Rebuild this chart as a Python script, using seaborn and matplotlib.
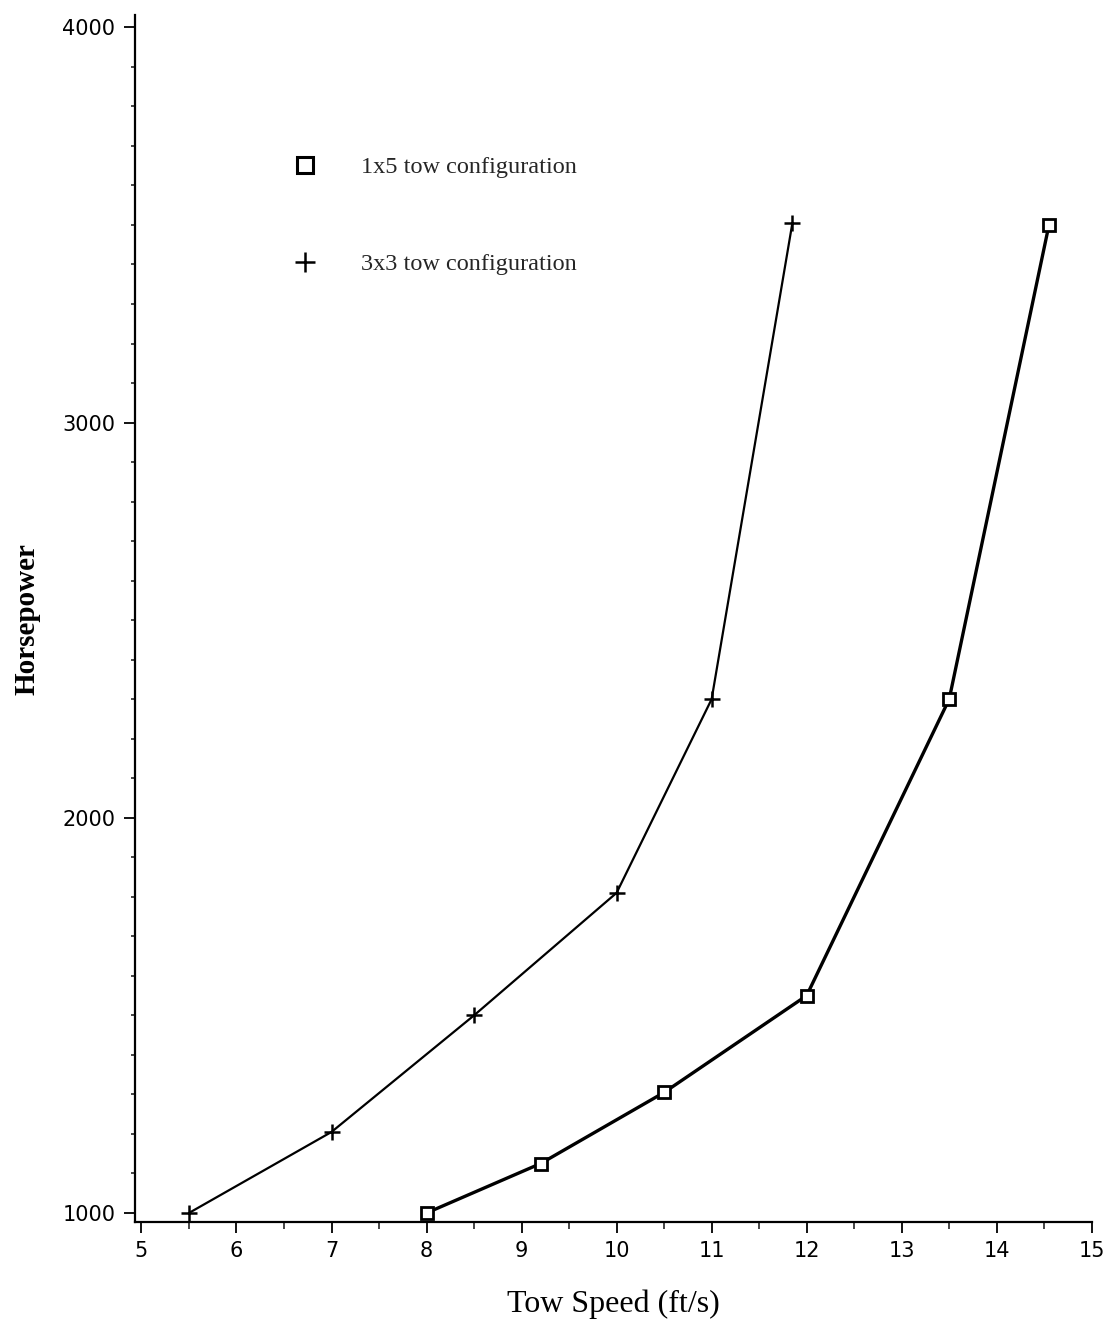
import matplotlib
matplotlib.use("Agg")
import matplotlib.pyplot as plt
from matplotlib.lines import Line2D
from matplotlib.ticker import MultipleLocator
import seaborn as sns
import pandas as pd

# Tow speed (ft/s) versus required horsepower for two tow configurations
speed_1x5 = [8.0, 9.2, 10.5, 12.0, 13.5, 14.55]
hp_1x5 = [1000, 1125, 1305, 1550, 2300, 3500]

speed_3x3 = [5.5, 7.0, 8.5, 10.0, 11.0, 11.85]
hp_3x3 = [1000, 1205, 1500, 1810, 2300, 3505]

label_1x5 = "1x5 tow configuration"
label_3x3 = "3x3 tow configuration"

df_1x5 = pd.DataFrame({"speed": speed_1x5, "hp": hp_1x5})
df_3x3 = pd.DataFrame({"speed": speed_3x3, "hp": hp_3x3})

sns.set_theme(style="ticks")
plt.rcParams["font.family"] = ["DejaVu Sans"]

fig = plt.figure(figsize=(11.05, 13.23), dpi=100)
ax = fig.add_axes([0.122, 0.0763, 0.866, 0.912])

sns.lineplot(data=df_3x3, x="speed", y="hp", ax=ax, color="black",
             linewidth=1.6, marker="+", markersize=11, markeredgewidth=1.8,
             markeredgecolor="black", sort=False)
sns.lineplot(data=df_1x5, x="speed", y="hp", ax=ax, color="black",
             linewidth=2.4, marker="s", markersize=9, markerfacecolor="white",
             markeredgecolor="black", markeredgewidth=2.0, sort=False)

ax.set_xlim(4.93, 15.0)
ax.set_ylim(977, 4030)
ax.xaxis.set_major_locator(MultipleLocator(1))
ax.xaxis.set_minor_locator(MultipleLocator(0.5))
ax.yaxis.set_major_locator(MultipleLocator(1000))
ax.yaxis.set_minor_locator(MultipleLocator(100))

ax.tick_params(axis="both", which="major", direction="out", length=8,
               width=1.3, colors="black", labelsize=15, pad=6)
ax.tick_params(axis="x", which="minor", direction="out", length=5, width=1.2)
ax.tick_params(axis="y", which="minor", direction="out", length=3, width=1.2)

sns.despine(ax=ax)
for side in ("left", "bottom"):
    ax.spines[side].set_color("black")
    ax.spines[side].set_linewidth(1.6)

ax.set_xlabel("Tow Speed (ft/s)", family="Liberation Serif", fontsize=23,
              color="black", labelpad=20)
ax.set_ylabel("Horsepower", family="Liberation Serif", fontsize=21,
              fontweight="bold", color="black", labelpad=16)

handles = [
    Line2D([], [], linestyle="none", marker="s", markersize=11,
           markerfacecolor="white", markeredgecolor="black",
           markeredgewidth=2.2, label=label_1x5),
    Line2D([], [], linestyle="none", marker="+", markersize=14,
           markeredgewidth=1.8, color="black", label=label_3x3),
]
ax.legend(handles=handles, loc="center left", bbox_to_anchor=(0.165, 0.834),
          frameon=False, borderpad=0, borderaxespad=0, handlelength=1.0,
          labelspacing=3.1, handletextpad=1.8,
          prop={"family": "Liberation Serif", "size": 17.5})

fig.savefig("out.png", dpi=100)
